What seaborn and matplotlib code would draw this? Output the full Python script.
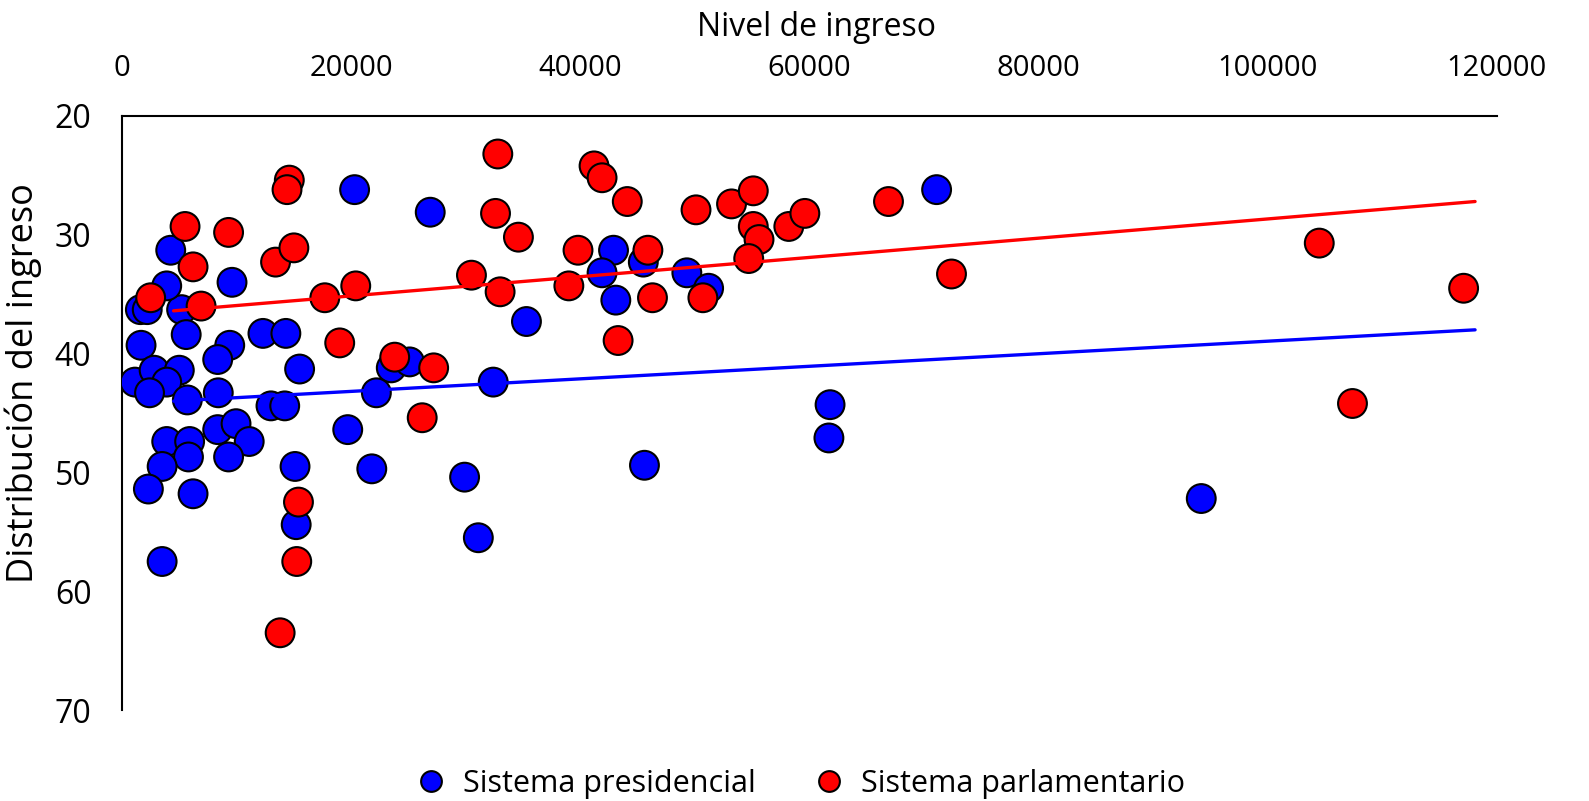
import numpy as np
import pandas as pd
import seaborn as sns
import matplotlib.pyplot as plt

# Nivel de ingreso (miles) y distribución del ingreso por sistema
pres_x = [1.6, 2.2, 5.2, 4.25, 3.9, 9.6, 5.6, 1.66, 9.4, 8.35, 12.3, 14.3,
          1.13, 2.8, 5.0, 3.9, 2.4, 5.7, 8.4, 15.5, 13.0, 14.2, 19.7, 3.9,
          5.9, 5.8, 3.5, 8.35, 9.95, 11.1, 9.3, 2.3, 6.2, 15.1, 15.2, 3.5,
          20.3, 26.9, 35.3, 23.5, 25.1, 22.2, 32.4, 21.8, 29.9, 31.1, 42.9,
          45.5, 41.9, 49.3, 51.2, 43.1, 61.8, 61.7, 45.6, 71.1, 94.2]
pres_y = [36.3, 36.3, 36.3, 31.3, 34.3, 34.0, 38.4, 39.3, 39.3, 40.5, 38.3, 38.3,
          42.4, 41.4, 41.4, 42.4, 43.3, 43.9, 43.3, 41.3, 44.4, 44.4, 46.4, 47.4,
          47.4, 48.7, 49.5, 46.4, 45.9, 47.4, 48.7, 51.4, 51.8, 49.5, 54.4, 57.5,
          26.2, 28.1, 37.3, 41.2, 40.7, 43.3, 42.4, 49.7, 50.4, 55.5, 31.3,
          32.3, 33.2, 33.2, 34.5, 35.5, 44.3, 47.1, 49.4, 26.2, 52.2]

parl_x = [2.5, 5.5, 6.2, 6.9, 9.3, 13.4, 14.6, 14.4, 15.0, 17.7, 19.0, 20.4,
          23.8, 27.2, 26.2, 15.4, 15.25, 13.8, 30.5, 33.0, 32.6, 34.6, 32.8,
          41.2, 41.9, 44.1, 50.1, 53.2, 55.1, 58.2, 59.6, 55.1, 55.6, 54.7,
          39.8, 45.9, 50.7, 39.0, 46.3, 43.3, 66.9, 72.4, 104.5, 117.1, 107.4]
parl_y = [35.3, 29.3, 32.7, 36.0, 29.8, 32.3, 25.4, 26.2, 31.1, 35.3, 39.1, 34.3,
          40.3, 41.2, 45.4, 52.5, 57.5, 63.5, 33.4, 34.8, 28.2, 30.2, 23.2,
          24.2, 25.2, 27.2, 27.9, 27.4, 26.3, 29.3, 28.2, 29.3, 30.4, 32.0,
          31.3, 31.3, 35.3, 34.3, 35.3, 38.9, 27.2, 33.3, 30.7, 34.5, 44.2]

# Líneas de tendencia (extremos)
trend_x = [4.5, 118.1]
pres_trend = [44.0, 38.0]
parl_trend = [36.4, 27.2]

groups = ['Sistema presidencial', 'Sistema parlamentario']
colors = {'Sistema presidencial': 'blue', 'Sistema parlamentario': 'red'}

df = pd.DataFrame({
    'ingreso': np.array(pres_x + parl_x) * 1000,
    'distribucion': pres_y + parl_y,
    'sistema': [groups[0]] * len(pres_x) + [groups[1]] * len(parl_x),
})

sns.set_style('white')
plt.rcParams['font.family'] = ['Open Sans', 'DejaVu Sans']
plt.rcParams['text.color'] = 'black'
plt.rcParams['axes.labelcolor'] = 'black'
plt.rcParams['xtick.color'] = 'black'
plt.rcParams['ytick.color'] = 'black'

fig = plt.figure(figsize=(15.89, 8.01), dpi=100)
ax = fig.add_axes([0.0768, 0.1136, 0.8652, 0.7416])

sns.scatterplot(data=df, x='ingreso', y='distribucion', hue='sistema',
                hue_order=groups, palette=colors, s=430, edgecolor='black',
                linewidth=1.5, ax=ax, zorder=3)

trend = pd.DataFrame({'x': np.array(trend_x) * 1000, 'pres': pres_trend, 'parl': parl_trend})
sns.lineplot(data=trend, x='x', y='pres', color='blue', linewidth=2.4, ax=ax, zorder=4)
sns.lineplot(data=trend, x='x', y='parl', color='red', linewidth=2.4, ax=ax, zorder=4)

ax.set_xlim(0, 120000)
ax.set_ylim(70, 20)
ax.set_xticks(range(0, 120001, 20000))
ax.set_yticks(range(20, 71, 10))
ax.xaxis.tick_top()
ax.xaxis.set_label_position('top')
ax.tick_params(axis='x', length=0, labelsize=21, pad=24)
ax.tick_params(axis='y', length=0, labelsize=23, pad=22)
ax.set_xlabel('Nivel de ingreso', fontsize=23)
ax.set_ylabel('Distribución del ingreso', fontsize=26)
ax.xaxis.set_label_coords(0.505, 1.135)
ax.yaxis.set_label_coords(-0.058, 0.55)

for side in ['right', 'bottom']:
    ax.spines[side].set_visible(False)
for side in ['left', 'top']:
    ax.spines[side].set_color('black')
    ax.spines[side].set_linewidth(1.5)

handles, labels = ax.get_legend_handles_labels()
ax.legend(handles, labels, loc='upper center', bbox_to_anchor=(0.488, -0.063),
          ncol=2, frameon=False, fontsize=22, markerscale=0.72,
          handletextpad=0.05, columnspacing=1.4, borderpad=0.2)

plt.savefig('out.png', dpi=100)
